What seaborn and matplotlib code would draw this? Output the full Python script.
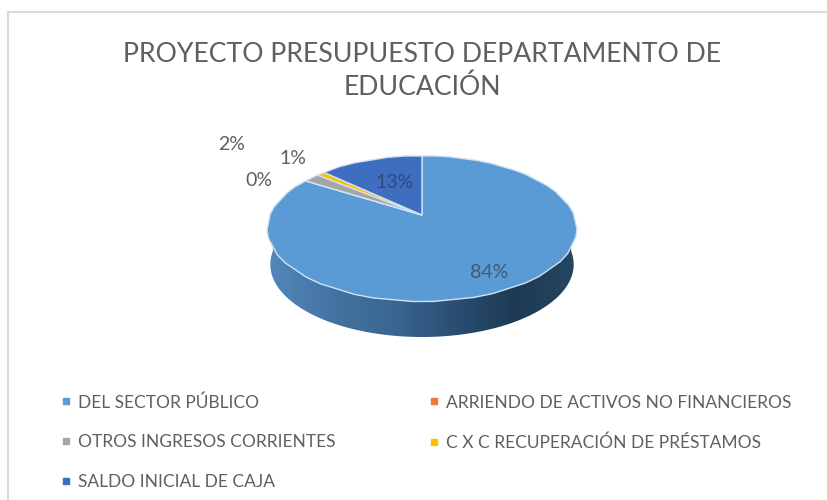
import numpy as np
import matplotlib.pyplot as plt
from matplotlib.lines import Line2D
from matplotlib.patches import PathPatch, Polygon, Rectangle
from matplotlib.path import Path
from matplotlib.colors import LinearSegmentedColormap
import seaborn as sns

titulo = "PROYECTO PRESUPUESTO DEPARTAMENTO DE\nEDUCACIÓN"
categorias = ["DEL SECTOR PÚBLICO", "ARRIENDO DE ACTIVOS NO FINANCIEROS",
              "OTROS INGRESOS CORRIENTES", "C X C RECUPERACIÓN DE PRÉSTAMOS",
              "SALDO INICIAL DE CAJA"]
valores = [84, 0, 2, 1, 13]
colores = ["#5b9bd5", "#ed7d31", "#a5a5a5", "#ffc000", "#3f6ec0"]

sns.set_theme(style="white")
plt.rcParams['font.family'] = ['Lato', 'DejaVu Sans']
GRIS = "#5f5f5f"

# parametros de la perspectiva del disco (en pixeles)
CX, CY = 422, 215
A, B, C = 70.0, 0.186, 151.3
PROF = 36


def perspectiva(xy):
    d = 1 + B * xy[:, 1]
    return np.column_stack([CX + C * xy[:, 0] / d, CY - A * xy[:, 1] / d])


fig = plt.figure(figsize=(8.28, 5.0), dpi=100)
ax = fig.add_axes([0, 0, 1, 1])

wedges, _ = ax.pie(valores, colors=sns.color_palette(colores), startangle=90,
                   counterclock=False)

# borde del grafico
ax.add_patch(Rectangle((8, 12), 900, 600, fc="white", ec="#d9d9d9", lw=1.5, zorder=0))

# lateral del disco con degradado
t = np.linspace(np.pi, 2 * np.pi, 200)
borde = perspectiva(np.column_stack([np.cos(t), np.sin(t)]))
abajo = borde.copy()
abajo[:, 0] = CX + (abajo[:, 0] - CX) * 0.985
abajo[:, 1] += PROF
lateral = Polygon(np.vstack([abajo, borde[::-1]]), closed=True, transform=ax.transData, fc="none", ec="none")
ax.add_patch(lateral)
cmap = LinearSegmentedColormap.from_list(
    "lateral", ["#5287bb", "#4474a3", "#3a6793", "#2b4f73", "#1e3a55", "#264660"])
img = ax.imshow(np.linspace(0, 1, 256)[None, :], extent=(268, 576, 340, 225), cmap=cmap,
                aspect="auto", zorder=1)
img.set_clip_path(lateral)

# sectores superiores con la perspectiva aplicada
for w in wedges:
    p = w.get_patch_transform().transform_path(w.get_path())
    nuevo = Path(perspectiva(p.interpolated(12).vertices))
    ax.add_patch(PathPatch(nuevo, fc=w.get_facecolor(), ec="#cfe2f3", lw=1.0, zorder=2))
    w.remove()

# etiquetas de porcentaje
pos_etiquetas = [(489, 272), (259, 180), (232, 145), (293, 159), (395, 182)]
col_etiquetas = ["#3f5a78", GRIS, GRIS, GRIS, "#2f4a7a"]
for v, (x, y), c in zip(valores, pos_etiquetas, col_etiquetas):
    ax.text(x, y, f"{v}%", ha="center", va="center", fontsize=14, color=c, zorder=3)

ax.text(422, 71, titulo, ha="center", va="center", fontsize=19.2, color=GRIS,
        linespacing=1.4, zorder=3)

# leyenda: el orden llena primero la columna izquierda
orden = [0, 2, 4, 1, 3]
handles = [Line2D([], [], ls="", marker="s", ms=4.5, color=colores[i], label=categorias[i])
           for i in orden]
ax.legend(handles=handles, ncol=2, loc="upper left", bbox_to_anchor=(54 / 828, 1 - 394 / 500),
          frameon=False, fontsize=12.5, labelcolor=GRIS, labelspacing=1.38,
          handletextpad=0.0, columnspacing=4.97, handlelength=1.4, borderpad=0, borderaxespad=0)

ax.set_xlim(0, 828)
ax.set_ylim(500, 0)
ax.set_aspect("auto")
ax.axis("off")
fig.savefig("out.png", dpi=100)
